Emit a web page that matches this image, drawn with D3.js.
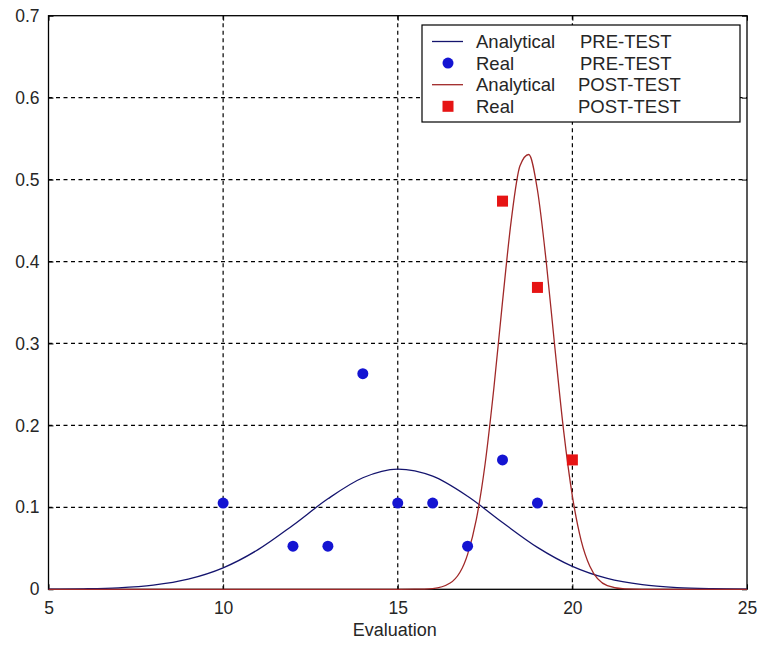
<!DOCTYPE html>
<html>
<head>
<meta charset="utf-8">
<script src="https://cdn.jsdelivr.net/npm/d3@7"></script>
<style>
  body { margin: 0; background: #fff; }
  svg { display: block; font-family: Arial, "Liberation Sans", sans-serif; }
  .tick text { fill: #262626; font-size: 17.5px; }
</style>
</head>
<body>
<div id="chart"></div>
<script>
// real observations (share of students per mark)
var preX = [10, 12, 13, 14, 15, 16, 17, 18, 19];
var preY = [0.1053, 0.0526, 0.0526, 0.2632, 0.1053, 0.1053, 0.0526, 0.1579, 0.1053];
var postX = [18, 19, 20];
var postY = [0.4737, 0.3684, 0.1579];

// analytical curves
var preCurveX = [5, 6, 7, 8, 9, 10, 11, 12, 13, 14, 15, 16, 17, 18, 19, 20, 21, 22, 23, 24, 25];
var preCurveY = [0.0002, 0.0006, 0.0018, 0.0051, 0.0124, 0.0262, 0.0484, 0.0782, 0.1104, 0.1361, 0.1467,
                 0.138, 0.1135, 0.0815, 0.0512, 0.028, 0.0133, 0.0056, 0.0021, 0.0007, 0.0002];
var postCurveX = [5, 10, 15, 15.5, 16, 16.5, 17, 17.25, 17.5, 17.75, 18, 18.25, 18.5, 18.75, 19, 19.25,
                  19.5, 19.75, 20, 20.25, 20.5, 21, 21.5, 22, 25];
var postCurveY = [0, 0, 0, 0.0001, 0.0009, 0.0076, 0.0426, 0.0852, 0.1526, 0.2448, 0.351, 0.4503, 0.5168,
                  0.5306, 0.4873, 0.4003, 0.2944, 0.1934, 0.1138, 0.0598, 0.0282, 0.0045, 0.0005, 0, 0];

var xTicks = [5, 10, 15, 20, 25];
var yTicks = [0, 0.1, 0.2, 0.3, 0.4, 0.5, 0.6, 0.7];
var yTickLabels = ["0", "0.1", "0.2", "0.3", "0.4", "0.5", "0.6", "0.7"];

var legendRows = [
    {label: "Analytical", test: "PRE-TEST", kind: "line", color: "#14146e"},
    {label: "Real", test: "PRE-TEST", kind: "dot", color: "#1414d2"},
    {label: "Analytical", test: "POST-TEST", kind: "line", color: "#a02828"},
    {label: "Real", test: "POST-TEST", kind: "square", color: "#e61414"}
];

var W = 757, H = 646;
var margin = {left: 48.5, top: 15.7, right: 10, bottom: 56.7};
var width = W - margin.left - margin.right,
    height = H - margin.top - margin.bottom;

var svg = d3.select("#chart").append("svg")
    .attr("width", W)
    .attr("height", H);

var g = svg.append("g")
    .attr("transform", "translate(" + margin.left + "," + margin.top + ")");

var x = d3.scaleLinear().domain([5, 25]).range([0, width]);
var y = d3.scaleLinear().domain([0, 0.7]).range([height, 0]);

// dashed grid
g.append("g").selectAll("line.vgrid")
    .data(xTicks.slice(1, -1))
    .enter().append("line")
    .attr("x1", function(d) { return x(d); })
    .attr("x2", function(d) { return x(d); })
    .attr("y1", 0).attr("y2", height)
    .attr("stroke", "#000").attr("stroke-width", 1.2)
    .attr("stroke-dasharray", "4,3.5");

g.append("g").selectAll("line.hgrid")
    .data(yTicks.slice(1, -1))
    .enter().append("line")
    .attr("x1", 0).attr("x2", width)
    .attr("y1", function(d) { return y(d); })
    .attr("y2", function(d) { return y(d); })
    .attr("stroke", "#000").attr("stroke-width", 1.2)
    .attr("stroke-dasharray", "4,3.5");

// axes with inward ticks
var xAxis = g.append("g")
    .attr("transform", "translate(0," + height + ")")
    .call(d3.axisBottom(x).tickValues(xTicks).tickSize(-5).tickPadding(12).tickSizeOuter(0));
var yAxis = g.append("g")
    .call(d3.axisLeft(y).tickValues(yTicks).tickSize(-5).tickPadding(9).tickSizeOuter(0)
        .tickFormat(function(d, i) { return yTickLabels[i]; }));
g.append("g")
    .call(d3.axisTop(x).tickValues(xTicks).tickSize(-5).tickFormat("").tickSizeOuter(0));
g.append("g")
    .attr("transform", "translate(" + width + ",0)")
    .call(d3.axisRight(y).tickValues(yTicks).tickSize(-5).tickFormat("").tickSizeOuter(0));

g.selectAll(".domain").remove();
g.selectAll(".tick line").attr("stroke", "#000");
xAxis.selectAll(".tick text").attr("dy", "0.72em");

g.append("rect")
    .attr("width", width).attr("height", height)
    .attr("fill", "none").attr("stroke", "#000").attr("stroke-width", 1.3);

// curves
var line = d3.line()
    .x(function(d) { return x(d[0]); })
    .y(function(d) { return y(d[1]); })
    .curve(d3.curveMonotoneX);

g.append("path")
    .datum(d3.zip(preCurveX, preCurveY))
    .attr("d", line)
    .attr("fill", "none").attr("stroke", legendRows[0].color).attr("stroke-width", 1.3);

g.append("path")
    .datum(d3.zip(postCurveX, postCurveY))
    .attr("d", line)
    .attr("fill", "none").attr("stroke", legendRows[2].color).attr("stroke-width", 1.3);

// markers
g.selectAll(".dot")
    .data(d3.zip(preX, preY))
    .enter().append("circle")
    .attr("class", "dot")
    .attr("r", 5.5)
    .attr("cx", function(d) { return x(d[0]); })
    .attr("cy", function(d) { return y(d[1]); })
    .attr("fill", legendRows[1].color);

g.selectAll(".sq")
    .data(d3.zip(postX, postY))
    .enter().append("rect")
    .attr("class", "sq")
    .attr("width", 11).attr("height", 11)
    .attr("x", function(d) { return x(d[0]) - 5.5; })
    .attr("y", function(d) { return y(d[1]) - 5.5; })
    .attr("fill", legendRows[3].color);

// x label
svg.append("text")
    .attr("x", margin.left + x(15) - 3)
    .attr("y", 636)
    .attr("text-anchor", "middle")
    .attr("font-size", 18)
    .attr("fill", "#262626")
    .text("Evaluation");

// legend
var lg = svg.append("g").attr("transform", "translate(422,25)");
lg.append("rect")
    .attr("width", 318).attr("height", 97)
    .attr("fill", "#fff").attr("stroke", "#000").attr("stroke-width", 1.2);

var rows = lg.selectAll(".row")
    .data(legendRows)
    .enter().append("g")
    .attr("transform", function(d, i) { return "translate(0," + (16.5 + i * 21.6) + ")"; });

rows.filter(function(d) { return d.kind === "line"; })
    .append("line")
    .attr("x1", 10).attr("x2", 41)
    .attr("stroke", function(d) { return d.color; }).attr("stroke-width", 1.3);
rows.filter(function(d) { return d.kind === "dot"; })
    .append("circle")
    .attr("cx", 26).attr("r", 5.5)
    .attr("fill", function(d) { return d.color; });
rows.filter(function(d) { return d.kind === "square"; })
    .append("rect")
    .attr("x", 20.5).attr("y", -5.5).attr("width", 11).attr("height", 11)
    .attr("fill", function(d) { return d.color; });

rows.append("text")
    .attr("x", 54).attr("dy", "0.35em")
    .attr("font-size", 18.5).attr("fill", "#262626")
    .text(function(d) { return d.label; });
rows.append("text")
    .attr("x", function(d) { return d.test === "PRE-TEST" ? 158 : 156; })
    .attr("dy", "0.35em")
    .attr("font-size", 18.5).attr("fill", "#262626")
    .text(function(d) { return d.test; });
</script>
</body>
</html>
